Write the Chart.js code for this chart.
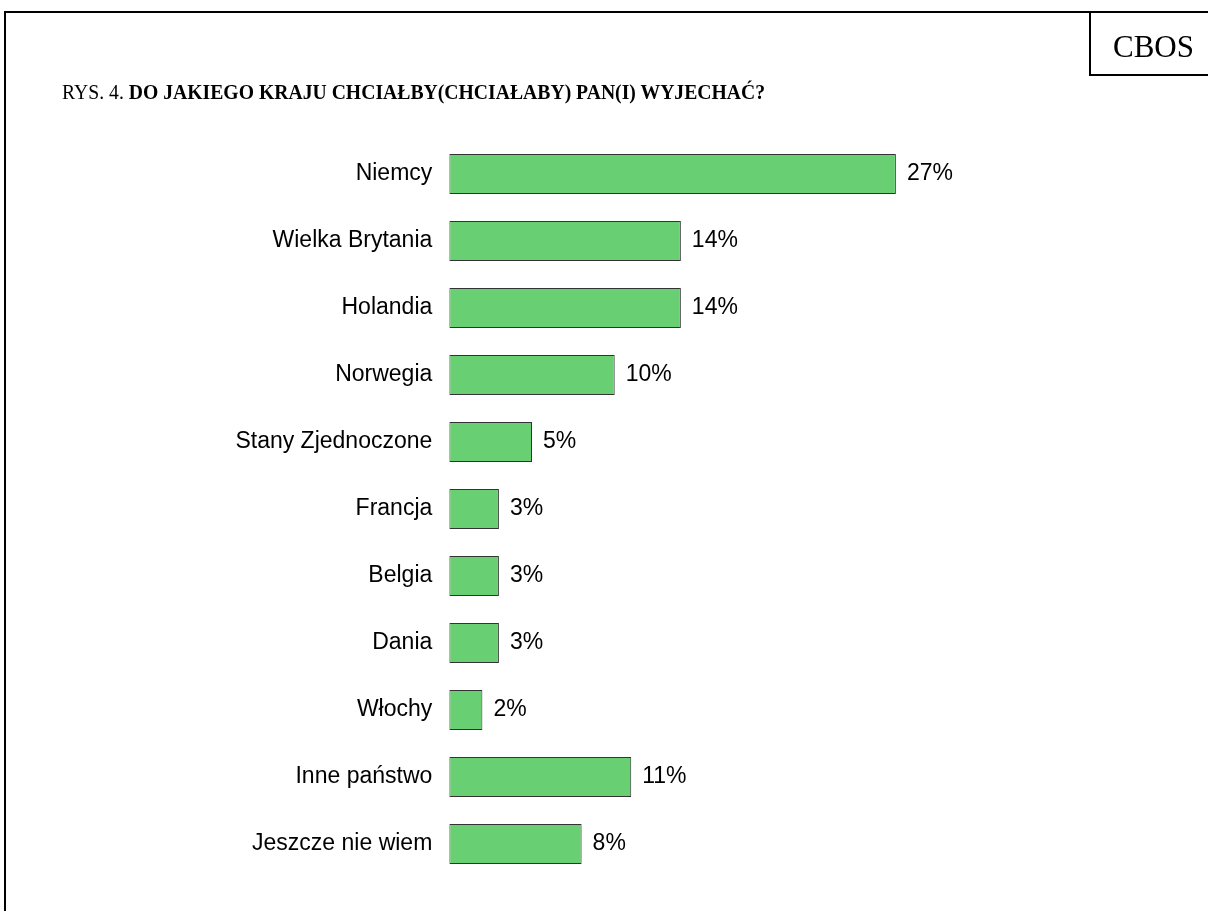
<!DOCTYPE html>
<html>
<head>
<meta charset="utf-8">
<script src="https://cdn.jsdelivr.net/npm/chart.js@4"></script>
<style>
  html, body { margin: 0; padding: 0; background: #fff; }
  #wrap { position: relative; width: 1208px; height: 911px; overflow: hidden; }
  #chart { position: absolute; left: 0; top: 0; }
  .line { position: absolute; background: #000; }
  #cbos { position: absolute; left: 1089px; top: 11px; width: 130px; height: 63px;
          border-left: 2px solid #000; border-bottom: 2px solid #000;
          font-family: "Liberation Serif", "Times New Roman", serif; font-size: 31px; }
  #cbos span { position: absolute; left: 22px; top: 20px; line-height: 1; }
  #title { position: absolute; left: 62px; top: 83px; white-space: nowrap;
           font-family: "Liberation Serif", "Times New Roman", serif; font-size: 19.7px; line-height: 1; color: #000;
           transform-origin: 0 100%; transform: scaleY(1.08); }
</style>
</head>
<body>
<div id="wrap">
  <canvas id="chart" width="1208" height="911"></canvas>
  <div class="line" style="left:4px; top:11px; width:1204px; height:2px;"></div>
  <div class="line" style="left:4px; top:11px; width:2px; height:900px;"></div>
  <div id="cbos"><span>CBOS</span></div>
  <div id="title">RYS. 4. <b>DO JAKIEGO KRAJU CHCIAŁBY(CHCIAŁABY) PAN(I) WYJECHAĆ?</b></div>
</div>
<script>
const categories = ["Niemcy", "Wielka Brytania", "Holandia", "Norwegia", "Stany Zjednoczone",
                    "Francja", "Belgia", "Dania", "Włochy", "Inne państwo", "Jeszcze nie wiem"];
const values = [27, 14, 14, 10, 5, 3, 3, 3, 2, 11, 8];
const valueLabels = ["27%", "14%", "14%", "10%", "5%", "3%", "3%", "3%", "2%", "11%", "8%"];

const labelFont = { family: "'Liberation Sans', Arial, sans-serif", size: 23 };

const valueLabelPlugin = {
  id: 'valueLabels',
  afterDatasetsDraw(chart) {
    const ctx = chart.ctx;
    const meta = chart.getDatasetMeta(0);
    ctx.save();
    ctx.font = labelFont.size + "px " + labelFont.family;
    ctx.fillStyle = '#000';
    ctx.textAlign = 'left';
    ctx.textBaseline = 'middle';
    meta.data.forEach((bar, i) => {
      ctx.fillText(valueLabels[i], bar.x + 11, bar.y);
    });
    ctx.restore();
  }
};

new Chart(document.getElementById('chart'), {
  type: 'bar',
  data: {
    labels: categories,
    datasets: [{
      data: values,
      backgroundColor: 'rgb(104,208,114)',
      borderColor: '#333333',
      borderWidth: 1,
      borderSkipped: false,
      barPercentage: 0.6,
      categoryPercentage: 1.0
    }]
  },
  options: {
    indexAxis: 'y',
    responsive: false,
    animation: false,
    devicePixelRatio: 1,
    layout: { padding: { left: 0, right: 262.5, top: 140.5, bottom: 33.5 } },
    plugins: { legend: { display: false }, tooltip: { enabled: false } },
    scales: {
      x: { display: false, min: 0, max: 30 },
      y: {
        grid: { display: false, drawTicks: false },
        border: { display: false },
        ticks: { color: '#000', font: labelFont, padding: 17 },
        afterFit(scale) { scale.width = 449.3; }
      }
    }
  },
  plugins: [valueLabelPlugin]
});
</script>
</body>
</html>
